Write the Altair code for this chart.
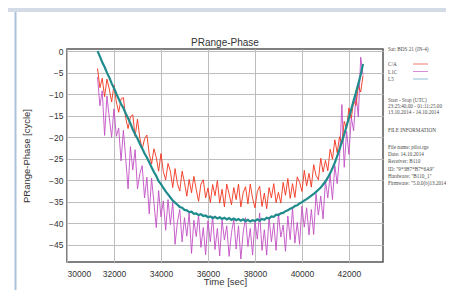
import altair as alt
import pandas as pd

# ---- data ----
t_start = 31300
t_step = 100

teal_l5 = [0.0,-1.2,-2.6,-3.7,-5.0,-6.1,-7.5,-8.6,-9.9,-11.1,
           -12.3,-13.2,-14.5,-15.6,-16.8,-18.2,-19.3,-20.3,-21.5,-22.6,
           -23.8,-24.7,-25.8,-27.0,-28.1,-29.0,-30.2,-30.9,-31.8,-32.6,
           -33.3,-34.0,-34.7,-35.2,-35.7,-36.2,-36.4,-36.9,-37.0,-37.4,
           -37.3,-37.8,-37.7,-38.1,-37.9,-38.3,-38.2,-38.6,-38.4,-38.8,
           -38.5,-38.9,-38.6,-39.0,-38.7,-39.1,-38.8,-39.2,-38.9,-39.3,
           -39.0,-39.4,-39.1,-39.5,-39.2,-39.6,-39.3,-39.5,-39.1,-39.4,
           -39.0,-39.2,-38.7,-38.9,-38.4,-38.5,-38.0,-38.1,-37.7,-37.6,
           -37.2,-37.0,-36.6,-36.4,-36.0,-35.8,-35.4,-35.1,-34.7,-34.4,
           -34.0,-33.6,-33.2,-32.7,-32.2,-31.7,-31.0,-30.3,-29.4,-28.4,
           -27.2,-25.9,-24.4,-22.8,-21.1,-19.3,-17.4,-15.5,-13.5,-11.5,
           -9.6,-7.6,-5.5,-3.0]

red_ca = [-4.0,-8.5,-6.3,-10.6,-6.5,-8.8,-11.8,-7.9,-11.8,-14.2,
          -11.1,-10.8,-15.6,-18.0,-15.2,-14.8,-19.8,-15.8,-20.2,-22.8,
          -20.4,-19.5,-23.9,-26.2,-22.7,-24.7,-27.9,-23.8,-28.0,-29.9,
          -26.1,-27.9,-31.7,-27.3,-30.8,-32.5,-27.9,-30.5,-33.7,-29.8,
          -32.9,-29.1,-32.1,-34.9,-30.9,-29.9,-34.1,-31.8,-35.2,-31.0,
          -33.6,-30.1,-35.3,-32.1,-36.2,-30.9,-33.2,-35.7,-31.7,-34.5,
          -30.9,-36.2,-32.9,-31.5,-35.5,-30.9,-34.2,-36.4,-32.6,-31.4,
          -36.1,-33.0,-36.6,-31.7,-34.1,-30.8,-35.2,-32.8,-35.3,-30.5,
          -33.5,-29.6,-34.2,-30.8,-34.0,-29.2,-30.5,-32.6,-27.7,-31.3,
          -28.4,-31.6,-26.4,-28.9,-29.9,-24.9,-28.1,-25.4,-27.8,-22.8,
          -25.1,-20.6,-23.6,-19.9,-21.5,-16.3,-18.0,-13.2,-15.6,-11.5,
          -12.6,-8.1,-9.5,-5.7]

magenta_l1c = [-6.0,-12.7,-9.2,-19.6,-10.4,-15.5,-20.0,-13.4,-19.8,-17.9,
               -25.5,-18.4,-25.0,-32.0,-22.2,-27.6,-22.9,-32.0,-28.5,-26.6,
               -34.1,-29.3,-37.8,-29.5,-35.2,-41.0,-32.4,-38.5,-34.8,-41.6,
               -34.5,-40.3,-35.0,-44.9,-39.7,-36.8,-44.3,-38.7,-43.0,-37.5,
               -47.0,-39.3,-43.1,-38.0,-45.6,-41.0,-47.3,-39.4,-44.3,-38.4,
               -46.1,-41.2,-47.6,-39.2,-43.9,-40.6,-47.7,-42.2,-39.1,-46.0,
               -40.6,-48.3,-42.0,-38.7,-45.4,-41.2,-47.4,-39.4,-43.7,-37.6,
               -46.3,-41.5,-47.4,-38.6,-44.3,-40.0,-46.3,-37.7,-43.2,-40.4,
               -46.5,-38.3,-43.8,-36.5,-44.6,-39.8,-44.9,-36.0,-40.9,-36.4,
               -42.7,-36.8,-42.6,-33.1,-38.1,-33.7,-39.0,-30.1,-34.1,-28.7,
               -34.5,-26.6,-30.8,-24.8,-12.4,-27.0,-18.6,-24.0,-15.4,-18.5,
               -10.0,-15.3,-1.4,-5.5]

x_ticks = [30000, 32000, 34000, 36000, 38000, 40000, 42000]
y_ticks = [0, -5, -10, -15, -20, -25, -30, -35, -40, -45]

series_names = ["L1C", "C/A", "L5"]
chart_title = "PRange-Phase"
panel_header = "Sat: BDS 21 (IN-4)"
panel_lines = ["Start - Stop (UTC)", "23:25:40.00 - 01:11:25.00", "13.10.2014 - 14.10.2014",
               "FILE INFORMATION",
               "File name: pilot.rge", "Date: 14.10.2014", "Receiver: B110",
               "ID: \"9*3B7*B7*6A9\"", "Hardware: \"B110_1\"", "Firmware: \"5.0.0(b)13.2014 B:1.2\""]

rows = []
for name, vals in zip(series_names, [magenta_l1c, red_ca, teal_l5]):
    for i, v in enumerate(vals):
        rows.append({"t": t_start + t_step * i, "v": v, "s": name})
df = pd.DataFrame(rows)
one = pd.DataFrame({"a": [0]})

# ---- layout (page px -> chart px; plot origin at page (67,49)) ----
OX, OY = 67, 49
W, H = 316, 213

xenc = alt.X("t:Q", scale=alt.Scale(domain=[30000, 43450], nice=False, zero=False),
             axis=alt.Axis(values=x_ticks, format="d", title="Time [sec]",
                           labelPadding=7, titleBaseline="top", titleY=14,
                           titleFontSize=9.5, titleFontWeight="normal"))
yenc = alt.Y("v:Q", scale=alt.Scale(domain=[-49, 0.5], nice=False, zero=False),
             axis=alt.Axis(values=y_ticks, format="d", title="PRange-Phase [cycle]",
                           labelPadding=4, titlePadding=17,
                           titleFontSize=9.5, titleFontWeight="normal"))

colors = {"L1C": "#c24fc4", "C/A": "#f2331c", "L5": "#1f8b8c"}
widths = {"L1C": 0.9, "C/A": 0.9, "L5": 2.2}

layers = []
for name in series_names:
    layers.append(
        alt.Chart(df).transform_filter(alt.datum.s == name)
        .mark_line(color=colors[name], strokeWidth=widths[name], interpolate="linear")
        .encode(x=xenc, y=yenc, order="t:Q")
    )

# chart title (as a text mark so it stays just above the plot frame)
layers.append(alt.Chart(one).mark_text(
    text=chart_title, align="center", baseline="alphabetic", font="Liberation Sans",
    fontSize=10, color="#333333").encode(x=alt.value(W / 2), y=alt.value(46 - OY)))

# window decorations
layers.append(alt.Chart(one).mark_rect(color="#d3dbe6").encode(
    x=alt.value(8 - OX), x2=alt.value(446 - OX), y=alt.value(8 - OY), y2=alt.value(12 - OY)))
layers.append(alt.Chart(one).mark_rule(color="#a9c1da", strokeWidth=2).encode(
    x=alt.value(15.5 - OX), y=alt.value(12 - OY), y2=alt.value(290 - OY)))

# right-hand info panel
PX = 388 - OX
txt_style = dict(align="left", baseline="middle", font="Liberation Serif", fontSize=5.2, color="#4a4a4a")
layers.append(alt.Chart(one).mark_text(text=panel_header, **txt_style).encode(
    x=alt.value(PX), y=alt.value(49 - OY)))
legend_y = [64, 71.5, 79]
legend_names = ["C/A", "L1C", "L5"]
sample_colors = {"C/A": "#ef7a72", "L1C": "#d48fd4", "L5": "#8fbfd6"}
for nm, yy in zip(legend_names, legend_y):
    layers.append(alt.Chart(one).mark_text(text=nm, **txt_style).encode(
        x=alt.value(PX), y=alt.value(yy - OY)))
    layers.append(alt.Chart(one).mark_rule(color=sample_colors[nm], strokeWidth=1).encode(
        x=alt.value(413 - OX), x2=alt.value(428 - OX), y=alt.value(yy - OY)))
panel_y = [100, 106, 112, 130, 147, 154, 161, 169, 176, 183]
for line, yy in zip(panel_lines, panel_y):
    layers.append(alt.Chart(one).mark_text(text=line, **txt_style).encode(
        x=alt.value(PX), y=alt.value(yy - OY)))

chart = alt.layer(*layers).properties(
    width=W, height=H,
    padding={"left": 59, "top": 41, "right": 63, "bottom": 28},
    autosize=alt.AutoSizeParams(type="none"),
    background="white",
).configure_view(
    stroke="#555555", strokeWidth=1.5
).configure_axis(
    grid=True, gridColor="#bdbdbd", gridWidth=1, domain=False, ticks=False, tickSize=0,
    labelFont="Liberation Sans", labelFontSize=8.5, labelColor="#333333",
    titleFont="Liberation Sans", titleColor="#333333",
)

chart.save("out.html", embed_options={"renderer": "svg", "actions": False})
